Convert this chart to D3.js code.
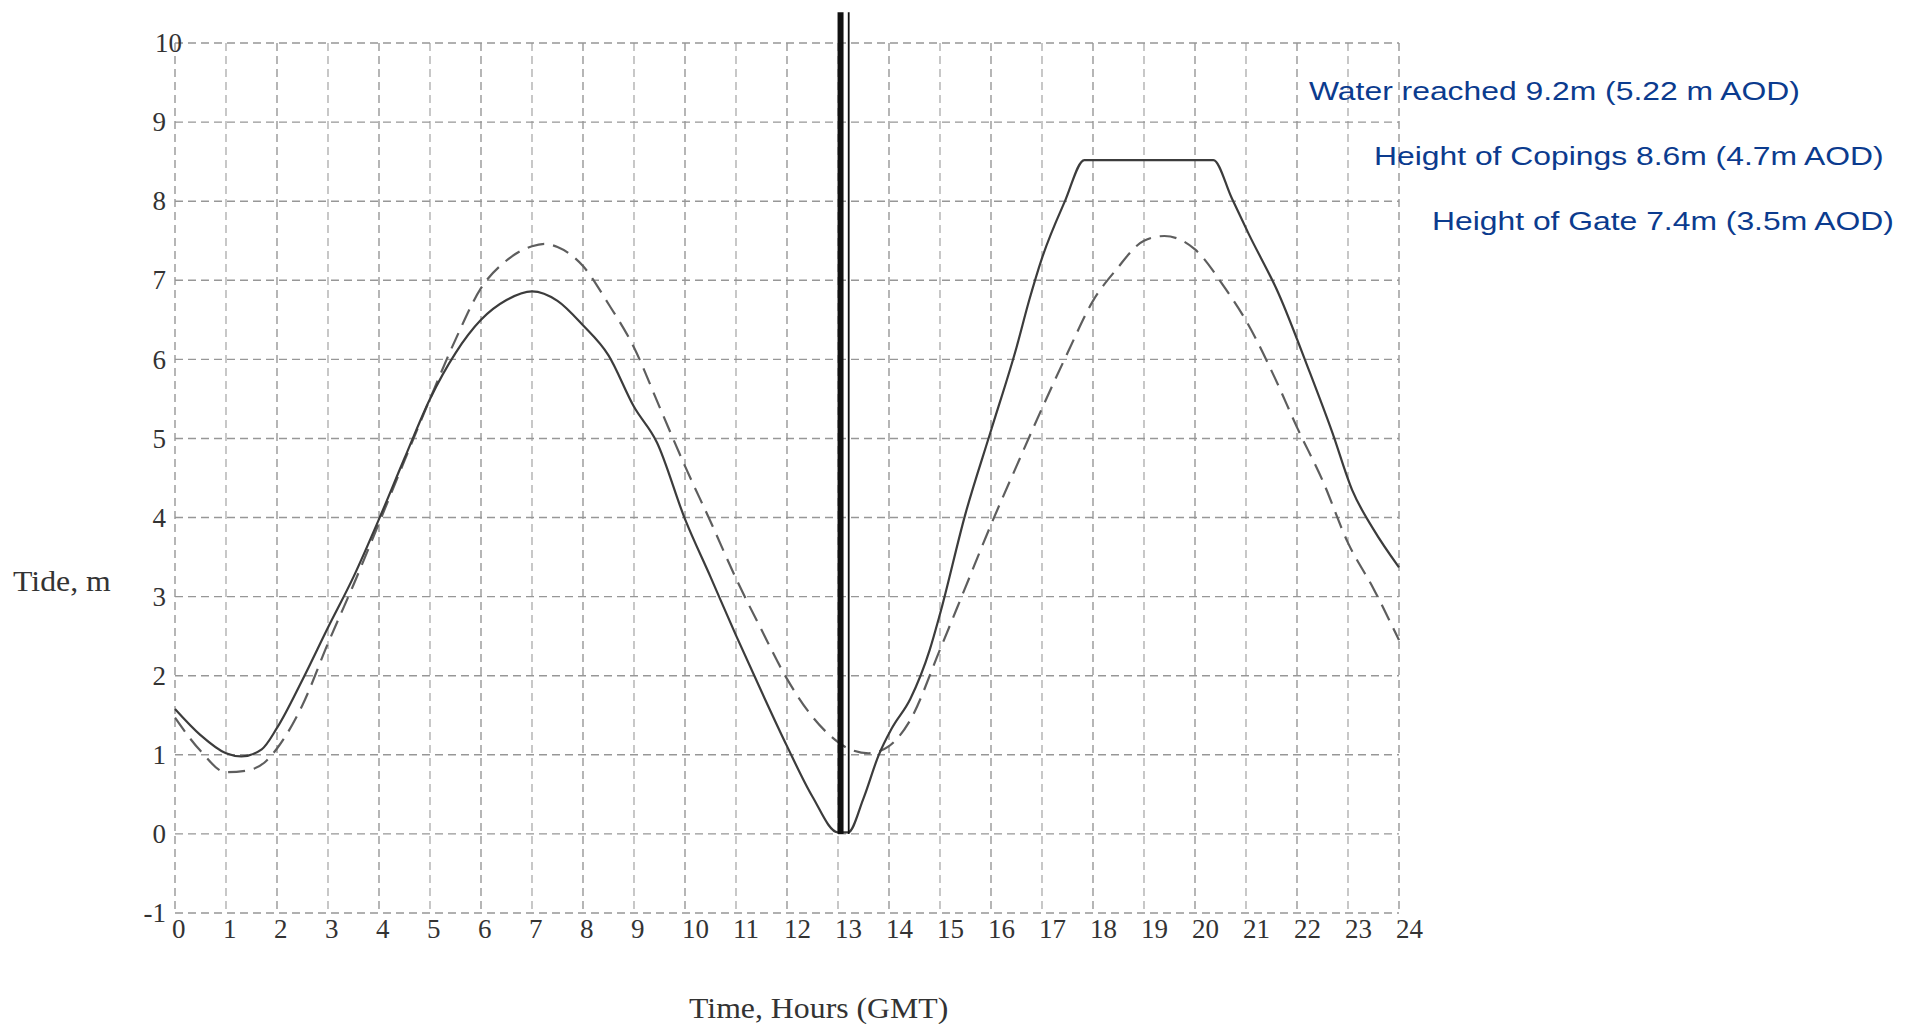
<!DOCTYPE html>
<html lang="en">
<head>
    <meta charset="UTF-8">
    <title>Tide, m</title>
    <style>
        body{
            margin: 0;
            background: #ffffff;
        }
        svg{
            display: block;
        }
        .grid line{
            stroke: #979797;
            stroke-width: 1.4px;
            stroke-dasharray: 8px 5px;
        }
        .tick-label{
            font-family: "Liberation Serif", "DejaVu Serif", serif;
            font-size: 27px;
            fill: #333;
        }
        .axis-title{
            font-family: "Liberation Serif", "DejaVu Serif", serif;
            font-size: 30px;
            fill: #333;
        }
        .solid{
            fill: none;
            stroke: #3c3c3c;
            stroke-width: 2.2px;
        }
        .dashed{
            fill: none;
            stroke: #5e5e5e;
            stroke-width: 2.2px;
            stroke-dasharray: 17px 9px;
        }
        .note{
            font-family: "Liberation Sans", Arial, sans-serif;
            font-size: 26px;
            fill: #0b3b8e;
        }
    </style>
    <script src="https://cdn.jsdelivr.net/npm/d3@7"></script>
</head>
<body>
<script>
    // tick values
    const hourTicks = d3.range(0, 25)
    const tideTicks = [-1, 0, 1, 2, 3, 4, 5, 6, 7, 8, 9, 10]

    // solid curve (observed tide)
    const solidHours = [0, 0.5, 1, 1.3, 1.7, 2, 2.5, 3, 3.5, 4, 4.5, 5, 5.5, 6, 6.5, 7, 7.5, 8, 8.5, 9, 9.45, 10, 10.5, 11, 11.5, 12, 12.5, 13,
        13.2, 13.5, 13.8, 14.05, 14.42, 14.8, 15, 15.5, 16, 16.5, 16.75, 17, 17.45, 17.83, 20.36, 20.72, 21.05, 21.64, 22.23, 22.69, 23.08, 23.5, 24]
    const solidTide = [1.58, 1.25, 1.02, 0.98, 1.07, 1.34, 1.95, 2.61, 3.25, 3.98, 4.75, 5.5, 6.08, 6.5, 6.75, 6.86, 6.74, 6.43, 6.05, 5.4, 4.95, 3.98, 3.25, 2.51, 1.8, 1.11, 0.47, 0.02,
        0.02, 0.45, 1.0, 1.33, 1.71, 2.33, 2.78, 4.05, 5.1, 6.15, 6.75, 7.28, 8.0, 8.52, 8.52, 8.04, 7.59, 6.83, 5.87, 5.08, 4.35, 3.85, 3.37]

    // dashed curve (predicted tide)
    const dashedHours = [0, 0.5, 1, 1.4, 1.75, 2, 2.5, 3, 3.5, 4, 4.5, 5, 5.5, 6, 6.5, 7, 7.25, 7.5, 8, 8.5, 9, 9.5, 10, 10.5, 11, 11.5, 12, 12.5, 12.85,
        13.2, 13.6, 14, 14.4, 15, 15.5, 16, 16.5, 17, 17.5, 18, 18.45, 19, 19.4, 20, 20.6, 21, 21.57, 22, 22.5, 23, 23.5, 24]
    const dashedTide = [1.47, 1.05, 0.78, 0.8, 0.9, 1.08, 1.63, 2.41, 3.15, 3.93, 4.72, 5.5, 6.25, 6.9, 7.25, 7.43, 7.46, 7.42, 7.18, 6.7, 6.15, 5.4, 4.65, 3.95, 3.23, 2.58, 1.96, 1.48, 1.24,
        1.08, 1.02, 1.11, 1.42, 2.33, 3.12, 3.91, 4.65, 5.38, 6.08, 6.74, 7.13, 7.5, 7.56, 7.39, 6.89, 6.49, 5.76, 5.14, 4.47, 3.68, 3.1, 2.45]

    // the gate marker at 13h
    const markerHours = [13.05, 13.21]
    const markerTop = 10.39

    const notes = [
        "Water reached 9.2m (5.22 m AOD)",
        "Height of Copings 8.6m (4.7m AOD)",
        "Height of Gate 7.4m (3.5m AOD)"
    ]

    const width = 1918
    const height = 1024

    const svg = d3.select("body").append("svg")
        .attr("width", width)
        .attr("height", height)

    const x = d3.scaleLinear().domain([0, 24]).range([175, 1399])
    const y = d3.scaleLinear().domain([-1, 10]).range([913, 43])

    /* ------------- grid ------------- */
    const grid = svg.append("g").attr("class", "grid")
    grid.selectAll(".h")
        .data(tideTicks)
        .enter()
        .append("line")
        .attr("x1", x(0)).attr("x2", x(24))
        .attr("y1", d => y(d)).attr("y2", d => y(d))
    grid.selectAll(".v")
        .data(hourTicks)
        .enter()
        .append("line")
        .attr("x1", d => x(d)).attr("x2", d => x(d))
        .attr("y1", y(10)).attr("y2", y(-1))
        .attr("stroke-opacity", (d, i) => i % 2 ? 0.75 : 1)

    /* ------------- tick labels ------------- */
    svg.append("g").selectAll("text")
        .data(tideTicks)
        .enter()
        .append("text")
        .attr("class", "tick-label")
        .attr("text-anchor", "end")
        .attr("x", d => d === 10 ? x(0) + 7 : x(0) - 9)
        .attr("y", d => y(d))
        .attr("dy", "0.34em")
        .text(d => d)

    svg.append("g").selectAll("text")
        .data(hourTicks)
        .enter()
        .append("text")
        .attr("class", "tick-label")
        .attr("x", d => x(d) - 3)
        .attr("y", y(-1) + 25)
        .text(d => d)

    /* ------------- axis titles ------------- */
    svg.append("text")
        .attr("class", "axis-title")
        .attr("transform", "translate(13,591) scale(1.06,1)")
        .text("Tide, m")
    svg.append("text")
        .attr("class", "axis-title")
        .attr("transform", "translate(689,1018) scale(1.06,1)")
        .text("Time, Hours (GMT)")

    /* ------------- curves ------------- */
    const line = d3.line()
        .x(d => x(d[0]))
        .y(d => y(d[1]))
        .curve(d3.curveMonotoneX)

    svg.append("path")
        .attr("class", "dashed")
        .attr("d", line(d3.zip(dashedHours, dashedTide)))
    svg.append("path")
        .attr("class", "solid")
        .attr("d", line(d3.zip(solidHours, solidTide)))

    /* ------------- gate marker ------------- */
    svg.selectAll(".marker")
        .data(markerHours)
        .enter()
        .append("line")
        .attr("x1", d => x(d)).attr("x2", d => x(d))
        .attr("y1", y(markerTop)).attr("y2", y(0))
        .attr("stroke", "#111")
        .attr("stroke-width", (d, i) => i === 0 ? 6 : 1.8)

    /* ------------- notes ------------- */
    const notePos = [[1309, 100], [1374, 165], [1432, 230]]
    svg.selectAll(".note")
        .data(notes)
        .enter()
        .append("text")
        .attr("class", "note")
        .attr("transform", (d, i) => `translate(${notePos[i][0]},${notePos[i][1]}) scale(1.225,1)`)
        .text(d => d)
</script>
</body>
</html>
